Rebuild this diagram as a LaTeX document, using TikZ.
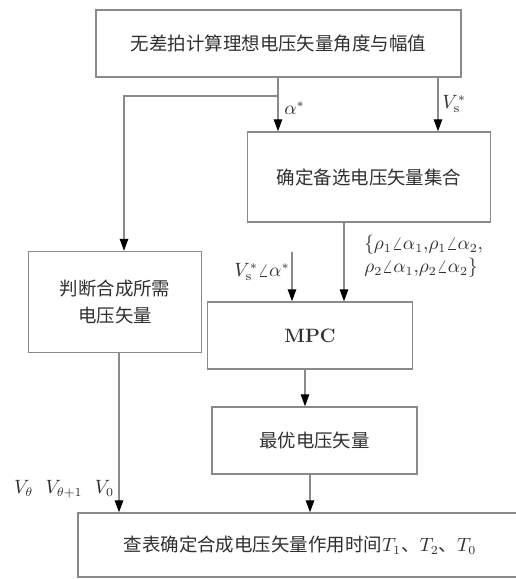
\documentclass[tikz,border=0pt]{standalone}
\usepackage{fontspec}
\usepackage{amsmath}
\newfontfamily\cjk{Noto Sans CJK SC}
\usetikzlibrary{arrows.meta}
\definecolor{linegray}{HTML}{8A8A8A}
\definecolor{txt}{HTML}{303030}
\tikzset{
  box/.style={draw=linegray, line width=0.8pt, rectangle, inner sep=0pt,
    font=\cjk\fontsize{10.5}{15}\selectfont, text=txt, align=center},
  arr/.style={draw=linegray, line width=0.7pt, -{Triangle[length=2.4mm,width=1.7mm,color=black]}},
  ln/.style={draw=linegray, line width=0.7pt},
  lab/.style={font=\fontsize{10.5}{13}\selectfont, text=txt, inner sep=0pt}
}
\begin{document}
\begin{tikzpicture}[x=0.02cm,y=-0.02cm]
\clip (0,0) rectangle (516,579);
\fill[white] (0,0) rectangle (516,579);
% boxes
\node[box, minimum width=365*0.02cm, minimum height=67*0.02cm] (b1) at (278.5,43.5) {无差拍计算理想电压矢量角度与幅值};
\node[box, minimum width=243*0.02cm, minimum height=90*0.02cm] (b2) at (369,177) {确定备选电压矢量集合};
\node[box, minimum width=173*0.02cm, minimum height=101*0.02cm] (b3) at (115,302) {判断合成所需\\电压矢量};
\node[box, minimum width=205*0.02cm, minimum height=67*0.02cm, font=\bfseries\fontsize{11}{13}\selectfont] (mpc) at (310,335.5) {MPC};
\node[box, minimum width=205*0.02cm, minimum height=67*0.02cm] (b5) at (314.5,440.5) {最优电压矢量};
\node[box, minimum width=444*0.02cm, minimum height=64*0.02cm] (b6) at (300,545) {查表确定合成电压矢量作用时间$T_1$、$T_2$、$T_0$};
% helper x positions
\coordinate (xa) at (278,0);
\coordinate (xv) at (438,0);
\coordinate (xl) at (124,0);
\coordinate (xb) at (344,0);
\coordinate (xm) at (292,0);
\coordinate (xc) at (305,0);
\coordinate (xd) at (310,0);
\coordinate (xe) at (119,0);
\coordinate (j) at (278,96);
\coordinate (fs) at (292,252);
% connectors
\draw[arr] (b1.south -| xa) -- (b2.north -| xa);
\draw[arr] (b1.south -| xv) -- (b2.north -| xv);
\draw[arr] (j) -| (b3.north -| xl);
\draw[arr] (b2.south -| xb) -- (mpc.north -| xb);
\draw[arr] (fs) -- (mpc.north -| xm);
\draw[arr] (mpc.south -| xc) -- (b5.north -| xc);
\draw[arr] (b5.south -| xd) -- (b6.north -| xd);
\draw[arr] (b3.south -| xe) -- (b6.north -| xe);
% labels
\node[lab, anchor=west] (la) at (284,108) {$\alpha^*$};
\node[lab, anchor=west] (lv) at (442,104) {$V_{\mathrm{s}}^*$};
\node[lab] (lva) at (262,272) {$V_{\mathrm{s}}^*\angle\alpha^*$};
\node[lab, anchor=west] (lset1) at (364,245) {$\{\rho_1\angle\alpha_1{,}\rho_1\angle\alpha_2{,}$};
\node[lab, anchor=west] (lset2) at (364,268) {$\rho_2\angle\alpha_1{,}\rho_2\angle\alpha_2\}$};
\node[lab] (lvt) at (64,489) {$V_\theta\ \ V_{\theta+1}\ \ V_0$};
\end{tikzpicture}
\end{document}
